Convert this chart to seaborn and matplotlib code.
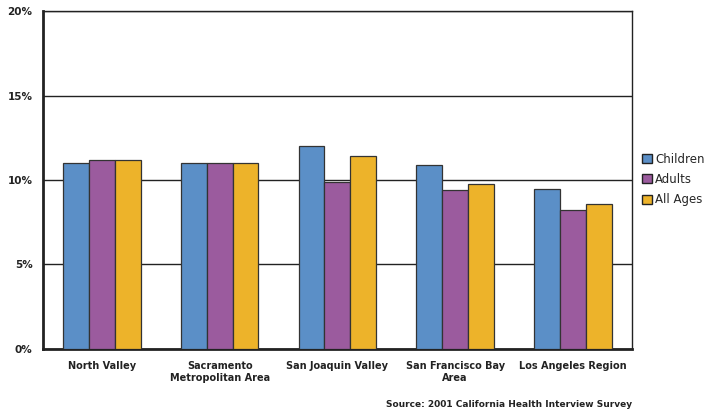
import pandas as pd
import matplotlib.pyplot as plt
import seaborn as sns
from matplotlib.ticker import FuncFormatter

# data
regions = ['North Valley', 'Sacramento\nMetropolitan Area', 'San Joaquin Valley',
           'San Francisco Bay\nArea', 'Los Angeles Region']
children = [11.0, 11.0, 12.0, 10.9, 9.45]
adults = [11.2, 11.0, 9.9, 9.4, 8.2]
all_ages = [11.2, 11.0, 11.4, 9.75, 8.6]
groups = ['Children', 'Adults', 'All Ages']
colors = ['#5b8fc7', '#9b5b9e', '#edb32a']

df = pd.DataFrame({'Region': regions * 3,
                   'Group': [g for g in groups for _ in regions],
                   'Pct': children + adults + all_ages})

sns.set_style('white')
plt.rcParams['font.family'] = ['DejaVu Sans']

fig = plt.figure(figsize=(7.11, 4.11), dpi=100)
ax = fig.add_axes([0.0605, 0.151, 0.828, 0.822])

sns.barplot(data=df, x='Region', y='Pct', hue='Group', palette=colors,
            width=0.66, edgecolor='#333333', linewidth=0.9, saturation=1,
            ax=ax, zorder=3)

ax.set_ylim(0, 20)
ax.set_xlim(-0.5, 4.5)
ax.set_yticks([0, 5, 10, 15, 20])
ax.yaxis.set_major_formatter(FuncFormatter(lambda v, p: f'{v:.0f}%'))
ax.yaxis.grid(True, color='#222222', linewidth=1.0, zorder=0)
ax.set_axisbelow(True)

# ticks between the region groups on the x axis
ax.set_xticks(range(5))
ax.set_xticklabels(regions, fontsize=7, fontweight='bold', color='#222222')
ax.set_xticks([0.5, 1.5, 2.5, 3.5], minor=True)
ax.tick_params(axis='x', which='major', length=0, pad=9)
ax.tick_params(axis='x', which='minor', length=4, width=1.2, color='#222222', direction='out')
ax.tick_params(axis='y', labelsize=7.5, length=4, width=1.2, color='#222222', direction='out')
for t in ax.get_yticklabels():
    t.set_fontweight('bold')
    t.set_color('#222222')

ax.set_xlabel('')
ax.set_ylabel('')

for s in ['left', 'bottom']:
    ax.spines[s].set_linewidth(2.0)
    ax.spines[s].set_color('#222222')
for s in ['top', 'right']:
    ax.spines[s].set_linewidth(1.0)
    ax.spines[s].set_color('#222222')

leg = ax.legend(loc='upper left', bbox_to_anchor=(1.01, 0.595), frameon=False,
                fontsize=8.5, handlelength=0.8, handleheight=0.8, handletextpad=0.3,
                labelspacing=0.62, borderaxespad=0)
for h in leg.legend_handles:
    h.set_edgecolor('#222222')
    h.set_linewidth(1.0)

fig.text(0.889, 0.006, 'Source: 2001 California Health Interview Survey',
         ha='right', va='bottom', fontsize=6.5, fontweight='bold', color='#222222')

plt.savefig('out.png', dpi=100)
